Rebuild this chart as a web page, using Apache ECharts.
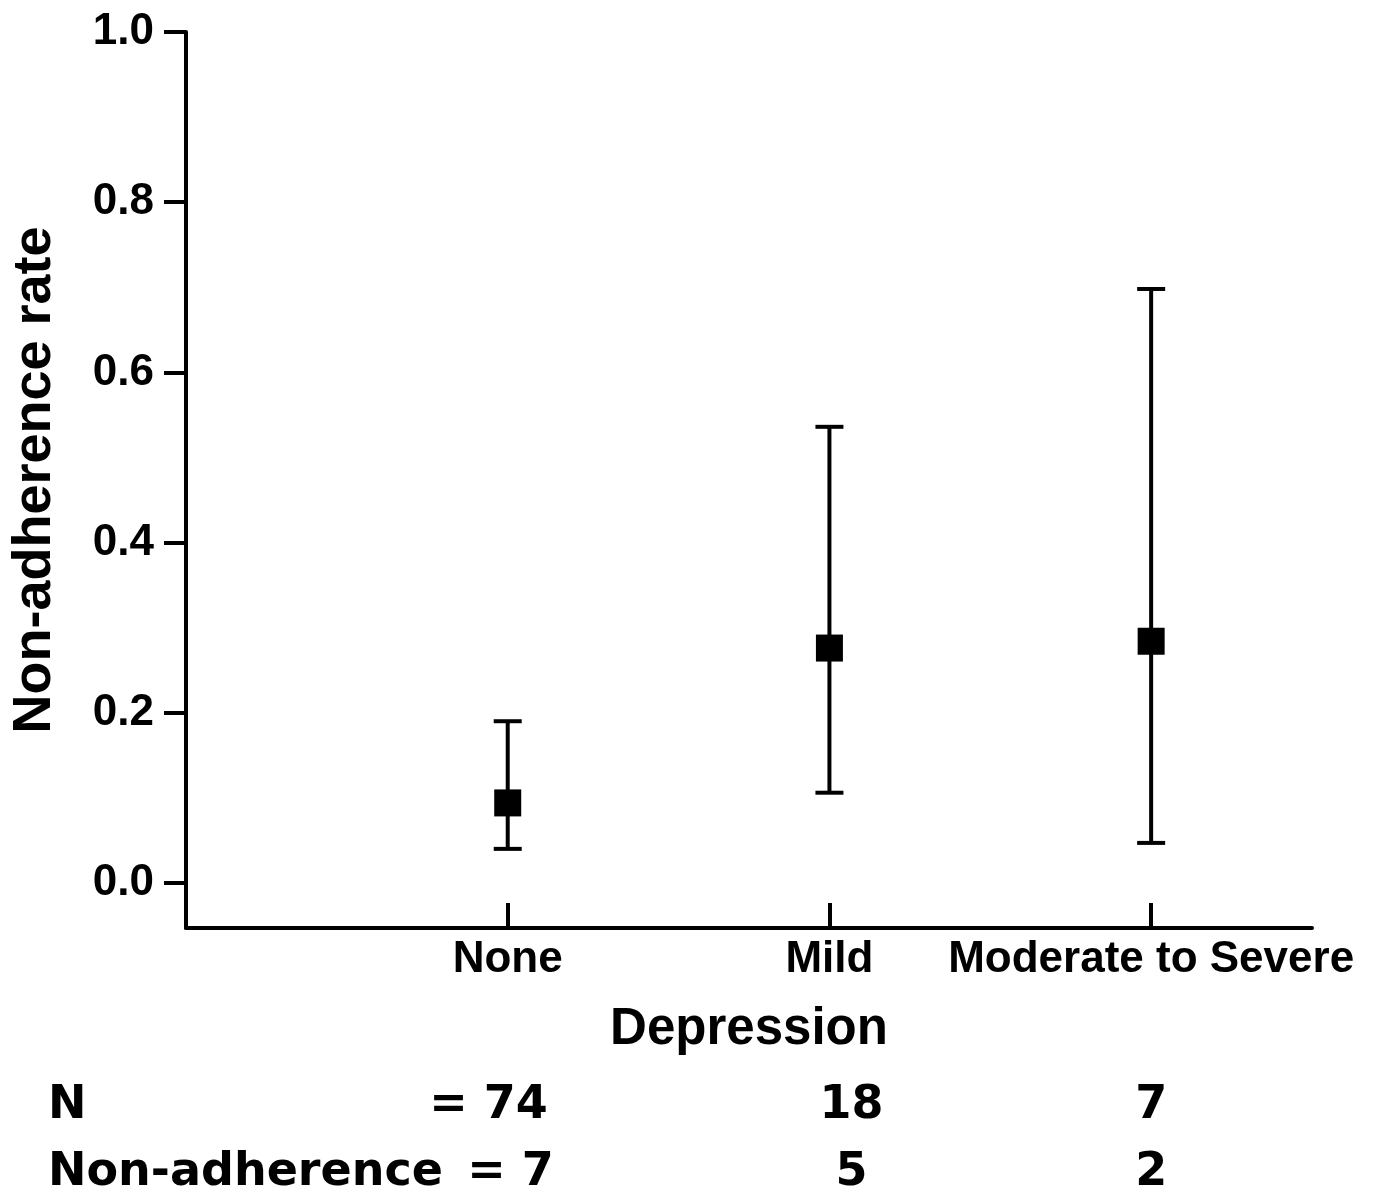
<!DOCTYPE html>
<html>
<head>
<meta charset="utf-8">
<script src="https://cdn.jsdelivr.net/npm/echarts@6.0.0/dist/echarts.min.js"></script>
<style>
  html, body { margin: 0; padding: 0; background: #fff; }
  #main { width: 1378px; height: 1199px; }
</style>
</head>
<body>
<div id="main"></div>
<script>
// data
var categories = ['None', 'Mild', 'Moderate to Severe'];
var catPos = [1, 2, 3];
var rate = [0.094, 0.276, 0.284];
var ciLow = [0.040, 0.106, 0.047];
var ciHigh = [0.190, 0.536, 0.698];
var yTicks = [0, 0.2, 0.4, 0.6, 0.8, 1.0];
var nCounts = [74, 18, 7];
var nonAdh = [7, 5, 2];

var main = document.getElementById('main');
var chart = echarts.init(main);

var labelFont = 'Liberation Sans, Arial, Helvetica, sans-serif';
var tableFont = 'DejaVu Sans, sans-serif';

var pointData = catPos.map(function (x, i) { return [x, rate[i]]; });
var barData = catPos.map(function (x, i) { return [x, ciLow[i], ciHigh[i]]; });

var option = {
  animation: false,
  backgroundColor: '#fff',
  grid: { left: 185, right: 66, top: 32, bottom: 271 },
  xAxis: {
    type: 'value', min: 0, max: 3.5,
    name: 'Depression', nameLocation: 'middle', nameGap: 76,
    nameTextStyle: { fontFamily: labelFont, fontWeight: 'bold', fontSize: 51, color: '#000' },
    axisLine: { onZero: false, lineStyle: { color: '#000', width: 4 } },
    axisTick: { inside: true, length: 25, customValues: catPos, lineStyle: { color: '#000', width: 4 } },
    axisLabel: {
      customValues: catPos, margin: 10,
      fontFamily: labelFont, fontWeight: 'bold', fontSize: 44, color: '#000',
      formatter: function (v) { return categories[Math.round(v) - 1] || ''; }
    },
    splitLine: { show: false }
  },
  yAxis: {
    type: 'value', min: -0.053, max: 1.0,
    name: 'Non-adherence rate', nameLocation: 'middle', nameGap: 124,
    nameTextStyle: { fontFamily: labelFont, fontWeight: 'bold', fontSize: 54, color: '#000' },
    axisLine: { show: true, onZero: false, lineStyle: { color: '#000', width: 4 } },
    axisTick: { show: true, length: 22, customValues: yTicks, lineStyle: { color: '#000', width: 4 } },
    axisLabel: {
      customValues: yTicks, margin: 32,
      fontFamily: labelFont, fontWeight: 'bold', fontSize: 44, color: '#000',
      formatter: function (v) { return v.toFixed(1); }
    },
    splitLine: { show: false }
  },
  series: [
    {
      type: 'custom',
      data: barData,
      z: 2,
      renderItem: function (params, api) {
        var x = api.value(0);
        var lo = api.coord([x, api.value(1)]);
        var hi = api.coord([x, api.value(2)]);
        var hw = 14;
        var st = { stroke: '#000', lineWidth: 4 };
        return {
          type: 'group',
          children: [
            { type: 'line', shape: { x1: lo[0], y1: lo[1], x2: hi[0], y2: hi[1] }, style: st },
            { type: 'line', shape: { x1: hi[0] - hw, y1: hi[1], x2: hi[0] + hw, y2: hi[1] }, style: st },
            { type: 'line', shape: { x1: lo[0] - hw, y1: lo[1], x2: lo[0] + hw, y2: lo[1] }, style: st }
          ]
        };
      }
    },
    {
      type: 'scatter',
      data: pointData,
      symbol: 'rect',
      symbolSize: 27,
      z: 3,
      itemStyle: { color: '#000', opacity: 1 }
    }
  ]
};
chart.setOption(option);

// table of counts under the axis, columns follow the x scale
var colShift = [[40, 46], [22, 22], [0, 0]];
var rowY = [1106, 1173];
var tFont = 'bold 46px ' + tableFont;
var gfx = [
  { type: 'text', x: 48, y: rowY[0], style: { text: 'N', font: tFont, fill: '#000', verticalAlign: 'middle' } },
  { type: 'text', x: 48, y: rowY[1], style: { text: 'Non-adherence', font: tFont, fill: '#000', verticalAlign: 'middle' } }
];
catPos.forEach(function (x, i) {
  var px = chart.convertToPixel({ gridIndex: 0 }, [x, 0])[0];
  var first = i === 0;
  [nCounts[i], nonAdh[i]].forEach(function (val, r) {
    gfx.push({
      type: 'text', x: px + colShift[i][r], y: rowY[r],
      style: {
        text: (first ? '= ' : '') + val,
        font: tFont, fill: '#000',
        align: first ? 'right' : 'center', verticalAlign: 'middle'
      }
    });
  });
});
chart.setOption({ graphic: gfx });
</script>
</body>
</html>
